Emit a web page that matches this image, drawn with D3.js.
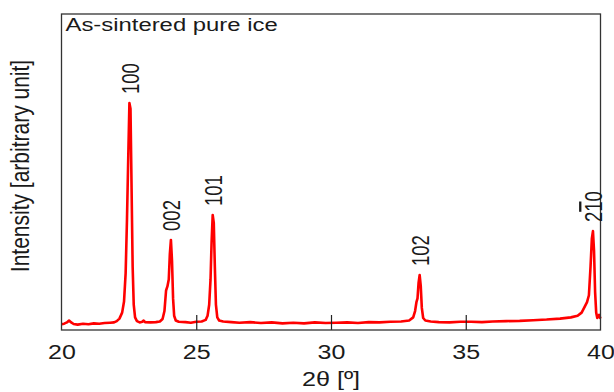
<!DOCTYPE html>
<html>
<head>
<meta charset="utf-8">
<script src="https://cdn.jsdelivr.net/npm/d3@7"></script>
<style>
  body { margin: 0; background: #fff; }
  svg text { font-family: "Liberation Sans", Arial, sans-serif; fill: #1a1a1a; }
</style>
</head>
<body>
<div id="chart"></div>
<script>
// diffraction profile: [2theta, intensity]
const profile = [
  [20.00, 18], [20.10, 20], [20.20, 24], [20.28, 30], [20.36, 24], [20.45, 19],
  [20.60, 17], [20.80, 20], [21.00, 18], [21.20, 21], [21.40, 20], [21.60, 22],
  [21.80, 23], [21.95, 24], [22.05, 28], [22.15, 36], [22.25, 55], [22.32, 90],
  [22.38, 180], [22.43, 350], [22.48, 560], [22.52, 718], [22.56, 700],
  [22.60, 450], [22.64, 200], [22.68, 80], [22.73, 40], [22.80, 28], [22.90, 24],
  [23.00, 26], [23.05, 30], [23.10, 25], [23.30, 24], [23.50, 25], [23.65, 27],
  [23.75, 35], [23.82, 60], [23.88, 125], [23.93, 138], [23.98, 160], [24.02, 240],
  [24.06, 285], [24.10, 220], [24.14, 100], [24.18, 45], [24.24, 30], [24.35, 26],
  [24.60, 25], [24.80, 23], [25.00, 26], [25.20, 27], [25.35, 32], [25.42, 45],
  [25.48, 80], [25.53, 160], [25.57, 280], [25.61, 364], [25.65, 340], [25.69, 200],
  [25.73, 80], [25.78, 40], [25.85, 30], [26.00, 27], [26.30, 25], [26.60, 23],
  [27.00, 25], [27.40, 22], [27.80, 24], [28.20, 21], [28.60, 23], [29.00, 21],
  [29.40, 24], [29.80, 22], [30.20, 23], [30.60, 24], [31.00, 22], [31.40, 25],
  [31.80, 24], [32.20, 26], [32.60, 27], [32.90, 30], [33.05, 40], [33.12, 60],
  [33.17, 88], [33.21, 100], [33.25, 150], [33.29, 174], [33.33, 140], [33.37, 70],
  [33.42, 38], [33.50, 30], [33.70, 27], [34.00, 25], [34.40, 24], [34.80, 26],
  [35.20, 26], [35.60, 25], [36.00, 27], [36.50, 28], [37.00, 29], [37.50, 31],
  [38.00, 33], [38.50, 36], [38.90, 40], [39.15, 45], [39.30, 55], [39.42, 75],
  [39.50, 88], [39.57, 110], [39.63, 200], [39.68, 290], [39.72, 313], [39.76, 250],
  [39.80, 120], [39.84, 55], [39.88, 38], [39.92, 42], [39.95, 48], [39.98, 40],
  [40.00, 36]
];

const peakLabels = ["100", "002", "101", "102", "210"];
const peakPositions = [22.52, 24.06, 25.61, 33.29, 39.72];
const peakHeights = [718, 285, 364, 174, 313];

const xTicks = [20, 25, 30, 35, 40];

const width = 614;
const height = 392;
const margin = { top: 14, right: 13.5, bottom: 62, left: 61.5 };
// the source picture is stretched sideways, so text is widened to match
const stretch = 1.25;

const svg = d3.select("#chart")
  .append("svg")
  .attr("width", width)
  .attr("height", height);

const x = d3.scaleLinear()
  .domain([20, 40])
  .range([margin.left, width - margin.right]);

const y = d3.scaleLinear()
  .domain([0, 1000])
  .range([height - margin.bottom, margin.top]);

// trace
svg.append("path")
  .datum(profile)
  .attr("fill", "none")
  .attr("stroke", "#ff0000")
  .attr("stroke-width", 2.6)
  .attr("stroke-linejoin", "round")
  .attr("d", d3.line().x(d => x(d[0])).y(d => y(d[1])));

// inner ticks along the bottom
const xAxis = d3.axisBottom(x)
  .tickValues(xTicks)
  .tickSize(-15)
  .tickSizeOuter(0)
  .tickPadding(15)
  .tickFormat(d3.format("d"));

const gx = svg.append("g")
  .attr("transform", `translate(0,${y(0)})`)
  .call(xAxis);
gx.select(".domain").remove();
gx.selectAll(".tick line")
  .attr("stroke", "#222")
  .attr("stroke-width", 1.2)
  .attr("display", d => (d === 20 || d === 40) ? "none" : null);
gx.selectAll(".tick text")
  .attr("font-size", 20)
  .attr("fill", "#1a1a1a")
  .attr("font-family", "Liberation Sans, Arial, sans-serif")
  .attr("transform", `scale(${stretch},1)`);

// frame
svg.append("rect")
  .attr("x", x(20))
  .attr("y", y(1000))
  .attr("width", x(40) - x(20))
  .attr("height", y(0) - y(1000))
  .attr("fill", "none")
  .attr("stroke", "#333")
  .attr("stroke-width", 1.3);

// peak labels
peakLabels.forEach((label, i) => {
  const px = x(peakPositions[i]);
  const py = y(peakHeights[i]) - 9;
  const t = svg.append("text")
    .attr("transform", `translate(${px + 1},${py}) scale(${stretch},1) rotate(-90)`)
    .attr("dy", "0.36em")
    .attr("font-size", 18.5);
  if (label === "210") {
    t.append("tspan").text("2");
    t.append("tspan").style("text-decoration", "overline").text("1");
    t.append("tspan").text("0");
  } else {
    t.text(label);
  }
});

// titles
svg.append("text")
  .attr("transform", `translate(${x(20) + 4},31) scale(1.29,1)`)
  .attr("font-size", 18.5)
  .text("As-sintered pure ice");

svg.append("text")
  .attr("transform", `translate(${x(30)},386) scale(1.2,1)`)
  .attr("text-anchor", "middle")
  .attr("font-size", 21)
  .text("2θ [º]");

svg.append("text")
  .attr("transform", `translate(20,166) scale(${stretch},1) rotate(-90)`)
  .attr("text-anchor", "middle")
  .attr("dy", "0.36em")
  .attr("font-size", 21)
  .text("Intensity [arbitrary unit]");
</script>
</body>
</html>
